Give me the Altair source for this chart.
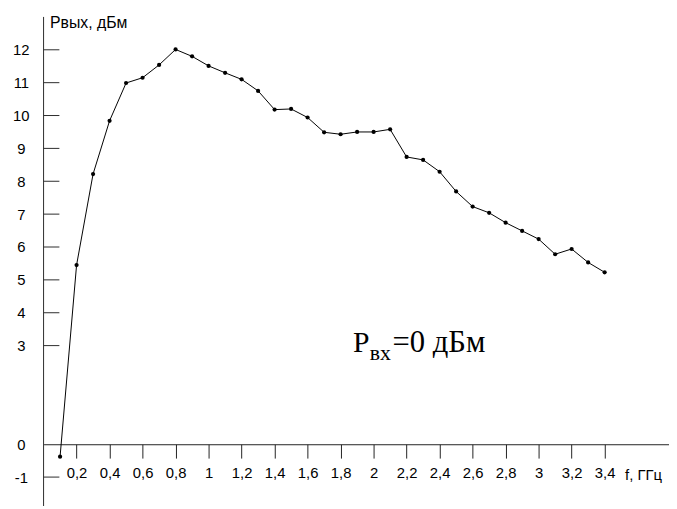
import altair as alt
import pandas as pd

# ---- data ----
freq = [0.1, 0.2, 0.3, 0.4, 0.5, 0.6, 0.7, 0.8, 0.9, 1.0,
        1.1, 1.2, 1.3, 1.4, 1.5, 1.6, 1.7, 1.8, 1.9, 2.0,
        2.1, 2.2, 2.3, 2.4, 2.5, 2.6, 2.7, 2.8, 2.9, 3.0,
        3.1, 3.2, 3.3, 3.4]
p_out = [-0.38, 5.45, 8.22, 9.84, 10.99, 11.15, 11.54, 12.01, 11.80, 11.51,
         11.30, 11.10, 10.75, 10.18, 10.20, 9.94, 9.49, 9.43, 9.50, 9.50,
         9.58, 8.74, 8.65, 8.29, 7.69, 7.23, 7.04, 6.74, 6.49, 6.24,
         5.78, 5.94, 5.53, 5.23]
x_ticks = [0.2, 0.4, 0.6, 0.8, 1.0, 1.2, 1.4, 1.6, 1.8, 2.0,
           2.2, 2.4, 2.6, 2.8, 3.0, 3.2, 3.4]
y_labels = [-1, 0, 3, 4, 5, 6, 7, 8, 9, 10, 11, 12]
y_tick_marks = [-1, 3, 4, 5, 6, 7, 8, 9, 10, 11, 12]
y_extent = [-1.88, 13]
ann_pos = {"x": 1.875, "y": 2.81}

df = pd.DataFrame({"f": freq, "p": p_out})
ticks_df = pd.DataFrame({"p": y_tick_marks})
yline_df = pd.DataFrame({"f": [0.0], "p": [y_extent[0]], "p2": [y_extent[1]]})
ann_df = pd.DataFrame({"f": [ann_pos["x"]], "p": [ann_pos["y"]]})

SANS = "Liberation Sans"
SERIF = "Liberation Serif"
AXIS_COLOR = "#2b2b2b"

x_scale = alt.Scale(domain=[0, 3.79], nice=False, zero=False)
y_scale = alt.Scale(domain=y_extent, nice=False, zero=False)

x_axis = alt.Axis(
    values=x_ticks, grid=False, tickSize=14, tickColor="rgb(34,34,34)", tickWidth=1,
    domain=True, domainColor="rgb(34,34,34)", domainWidth=1,
    labelFontSize=15, labelFont=SANS, labelColor="black", labelPadding=8,
    labelExpr="replace(format(datum.value, '.1~f'), '.', ',')",
    labelOverlap=False, labelFlush=False, offset=-62.5,
    title="f, ГГц", titleFont=SANS, titleFontSize=15, titleFontWeight="normal",
    titleColor="black", titleX=588, titleY=36, titleAlign="left",
    titleBaseline="alphabetic",
)
y_axis = alt.Axis(
    values=y_labels, grid=False, ticks=False, domain=False,
    labelFontSize=15, labelFont=SANS, labelColor="black", labelAlign="center",
    labelPadding=23, labelBaseline="middle", labelOverlap=False, labelFlush=False,
    labelExpr="datum.value < 0 ? '-' + format(-datum.value, 'd') : format(datum.value, 'd')",
    title="Рвых, дБм", titleFont=SANS, titleFontSize=16, titleFontWeight="normal",
    titleColor="black", titleAngle=0, titleAlign="left", titleBaseline="alphabetic",
    titleX=6, titleY=11,
)

X = alt.X("f:Q", scale=x_scale, axis=x_axis)
Y = alt.Y("p:Q", scale=y_scale, axis=y_axis)

base = alt.Chart(df).encode(x=X, y=Y)
line = base.mark_line(color="black", strokeWidth=1)
pts = base.mark_circle(color="black", size=18, opacity=1)

# y axis line (vertical, at f = 0) and its inward tick marks
yline = alt.Chart(yline_df).mark_rule(color=AXIS_COLOR, strokeWidth=1).encode(
    x=X, y=Y, y2="p2:Q",
)
yticks = alt.Chart(ticks_df).mark_rule(color=AXIS_COLOR, strokeWidth=1).encode(
    x=alt.value(0), x2=alt.value(16), y=Y,
)

t1 = alt.Chart(ann_df).mark_text(text="P", font=SERIF, fontSize=30, align="left",
                                 baseline="alphabetic", color="black").encode(x=X, y=Y)
t2 = alt.Chart(ann_df).mark_text(text="вх", font=SERIF, fontSize=22, align="left",
                                 baseline="alphabetic", color="black", dx=17, dy=8).encode(x=X, y=Y)
t3 = alt.Chart(ann_df).mark_text(text="=0 дБм", font=SERIF, fontSize=31, align="left",
                                 baseline="alphabetic", color="black", dx=40).encode(x=X, y=Y)

chart = alt.layer(line, pts, yline, yticks, t1, t2, t3).properties(
    width=633, height=495,
    padding={"left": 36, "top": 6, "right": 0, "bottom": 0},
    autosize="none",
    background="white",
).configure_view(stroke=None)

chart.save("out.html", embed_options={"renderer": "svg", "actions": False})
